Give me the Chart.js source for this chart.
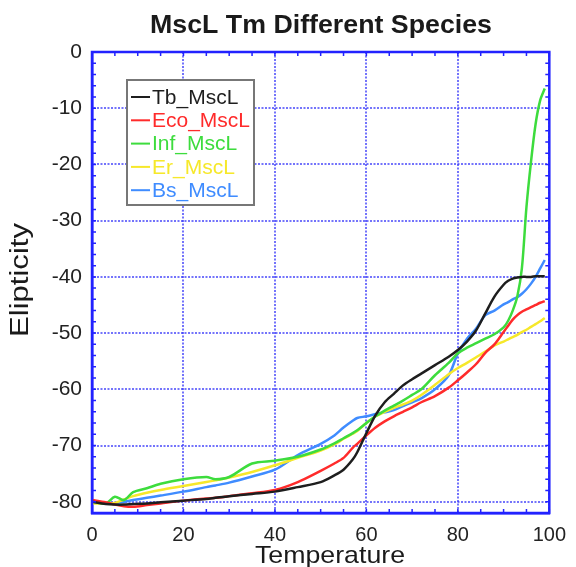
<!DOCTYPE html>
<html>
<head>
<meta charset="utf-8">
<script src="https://cdn.jsdelivr.net/npm/chart.js@4.4.0/dist/chart.umd.min.js"></script>
<style>
  html, body { margin: 0; padding: 0; background: #fff; }
</style>
</head>
<body>
<canvas id="grafico" width="576" height="567"></canvas>
<script>
// temperature points (shared by all series)
const temps = [0, 3, 5, 7, 9, 12, 15, 20, 25, 27, 30, 35, 40, 45, 50, 53, 55, 57, 58, 60,
  62, 64, 66, 68, 70, 72, 75, 78, 80, 82, 84, 86, 88, 90, 91, 92, 93, 94, 95, 96, 97, 98, 99];

const tbMscL = [-80, -80.4, -80.5, -80.5, -80.4, -80.3, -80.1, -79.8, -79.5, -79.3, -79, -78.6, -78.2, -77.4, -76.5, -75.3, -74.3, -72.5, -71.2, -67.8,
  -64.6, -62.3, -60.8, -59.3, -58.2, -57.2, -55.7, -54.2, -53, -51.5, -49.5, -46.5, -43.5, -41.4, -40.7, -40.3, -40.1, -40, -40, -40, -39.9, -39.9, -39.9];
const ecoMscL = [-79.7, -80.1, -80.5, -80.8, -80.9, -80.6, -80.3, -79.8, -79.4, -79.3, -79, -78.5, -77.9, -76.5, -74.5, -73.2, -72.2, -70.4, -69.7, -68.2,
  -66.8, -65.7, -64.8, -64, -63.2, -62.3, -61.2, -59.7, -58.4, -57, -55.5, -53.5, -52, -49.8, -48.7, -47.6, -46.8, -46.2, -45.8, -45.4, -45, -44.6, -44.3];
const infMscL = [-80, -80.3, -79.1, -79.7, -78.3, -77.6, -76.8, -76, -75.6, -76, -75.6, -73.2, -72.7, -72, -70.7, -69.6, -68.7, -67.8, -67.3, -66,
  -64.8, -63.8, -62.9, -62, -61, -60, -57.5, -55.3, -53.6, -52.6, -51.8, -51, -50.2, -49, -47.8, -46, -43.5, -38.5, -27.6, -19.5, -12.8, -8.6, -6.5];
const erMscL = [-80.3, -80.3, -80.2, -79.6, -79, -78.4, -77.9, -77.2, -76.5, -76.2, -75.7, -74.7, -73.5, -72.2, -70.9, -69.8, -68.8, -67.9, -67.4, -66,
  -64.8, -64, -63.3, -62.7, -62, -61, -59.2, -57.3, -56.2, -55.3, -54.3, -53.3, -52.2, -51.5, -51.1, -50.7, -50.3, -49.8, -49.4, -48.9, -48.4, -47.9, -47.3];
const bsMscL = [-80, -80.3, -80.3, -80, -79.7, -79.3, -78.9, -78.2, -77.4, -77.1, -76.6, -75.5, -74.3, -71.7, -69.7, -68.2, -66.8, -65.6, -65.1, -64.8,
  -64.4, -64.1, -63.7, -63, -62.3, -61.6, -60, -57.5, -53.6, -51, -49.2, -46.8, -46, -44.9, -44.5, -44, -43.6, -43, -42.2, -41.2, -40, -38.5, -37];

const nomes = ['Tb_MscL', 'Eco_MscL', 'Inf_MscL', 'Er_MscL', 'Bs_MscL'];
const cores = ['#1e1e1e', '#ff2b2b', '#3ddc3d', '#f6e82a', '#3f8cff'];
const series = [tbMscL, ecoMscL, infMscL, erMscL, bsMscL];

const azul = '#2222ff';
const grade = 'rgba(55, 55, 250, 0.7)';

function textoEsticado(ctx, texto, x, y, fonte, largura, angulo) {
  ctx.save();
  ctx.font = fonte;
  ctx.translate(x, y);
  if (angulo) ctx.rotate(angulo);
  const w = ctx.measureText(texto).width;
  ctx.scale(largura / w, 1);
  ctx.textAlign = 'center';
  ctx.textBaseline = 'alphabetic';
  ctx.fillStyle = '#1a1a1a';
  ctx.fillText(texto, 0, 0);
  ctx.restore();
}

const extras = {
  id: 'extras',
  afterDraw(chart) {
    const ctx = chart.ctx;
    const a = chart.chartArea;
    const sx = chart.scales.x, sy = chart.scales.y;

    // moldura
    ctx.save();
    ctx.strokeStyle = azul;
    ctx.lineWidth = 2.5;
    ctx.strokeRect(a.left, a.top, a.right - a.left, a.bottom - a.top);

    // ticks menores para dentro
    ctx.lineWidth = 1.5;
    ctx.beginPath();
    for (let v = 0; v <= 100; v += 5) {
      const px = sx.getPixelForValue(v);
      ctx.moveTo(px, a.bottom); ctx.lineTo(px, a.bottom - 4);
      ctx.moveTo(px, a.top); ctx.lineTo(px, a.top + 4);
    }
    for (let v = -82; v <= 0; v += 2) {
      const py = sy.getPixelForValue(v);
      ctx.moveTo(a.left, py); ctx.lineTo(a.left + 4, py);
      ctx.moveTo(a.right, py); ctx.lineTo(a.right - 4, py);
    }
    ctx.stroke();
    ctx.restore();

    // legenda
    ctx.save();
    ctx.fillStyle = '#fff';
    ctx.fillRect(127, 80, 127, 125);
    ctx.strokeStyle = '#777';
    ctx.lineWidth = 2;
    ctx.strokeRect(127, 80, 127, 125);
    ctx.font = '21px "Liberation Sans", Arial, sans-serif';
    ctx.textBaseline = 'middle';
    chart.data.datasets.forEach((ds, i) => {
      const y = 97 + i * 23.3;
      ctx.strokeStyle = ds.borderColor;
      ctx.lineWidth = 2;
      ctx.beginPath();
      ctx.moveTo(131, y); ctx.lineTo(150, y);
      ctx.stroke();
      ctx.fillStyle = ds.borderColor;
      ctx.fillText(ds.label, 152, y + 1);
    });
    ctx.restore();

    // titulos
    textoEsticado(ctx, 'MscL Tm Different Species', 321, 33, 'bold 25px "Liberation Sans", Arial, sans-serif', 342);
    textoEsticado(ctx, 'Temperature', 330, 563, '24px "Liberation Sans", Arial, sans-serif', 150);
    textoEsticado(ctx, 'Elipticity', 28, 280, '25px "Liberation Sans", Arial, sans-serif', 114, -Math.PI / 2);
  }
};

new Chart(document.getElementById('grafico'), {
  type: 'line',
  data: {
    datasets: series.map((vals, i) => ({
      label: nomes[i],
      data: temps.map((t, j) => ({ x: t, y: vals[j] })),
      borderColor: cores[i],
      borderWidth: 2.5,
      pointRadius: 0,
      tension: 0.3,
      fill: false
    }))
  },
  options: {
    responsive: false,
    animation: false,
    devicePixelRatio: 1,
    layout: { padding: { top: 52, right: 19, left: 0, bottom: 0 } },
    plugins: {
      legend: { display: false },
      title: { display: false },
      tooltip: { enabled: false }
    },
    scales: {
      x: {
        type: 'linear',
        min: 0,
        max: 100,
        ticks: {
          stepSize: 20,
          padding: 10,
          color: '#222',
          font: { size: 20, family: '"Liberation Sans", Arial, sans-serif' }
        },
        grid: { color: grade, lineWidth: 2, drawTicks: false, tickLength: 0 },
        border: { color: azul, width: 2.5, dash: [2, 1.5] },
        afterFit: (s) => { s.height = 54; }
      },
      y: {
        min: -82,
        max: 0,
        ticks: {
          stepSize: 10,
          includeBounds: false,
          padding: 10,
          color: '#222',
          font: { size: 21, family: '"Liberation Sans", Arial, sans-serif' }
        },
        grid: { color: grade, lineWidth: 2, drawTicks: false, tickLength: 0 },
        border: { color: azul, width: 2.5, dash: [2, 1.5] },
        afterFit: (s) => { s.width = 92; }
      }
    }
  },
  plugins: [extras]
});
</script>
</body>
</html>
